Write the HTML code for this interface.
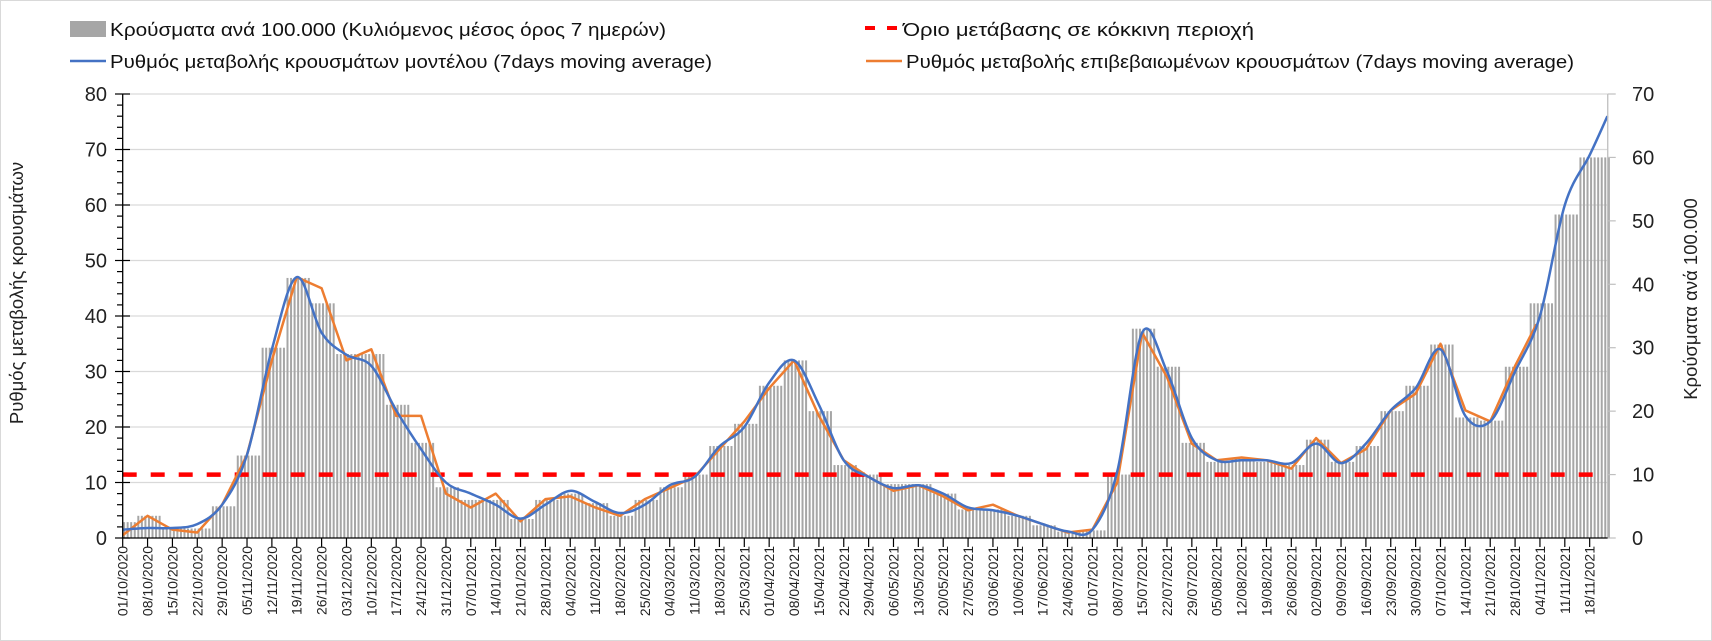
<!DOCTYPE html>
<html><head><meta charset="utf-8"><title>Chart</title>
<style>
html,body{margin:0;padding:0;background:#fff;}
svg{display:block;font-family:"Liberation Sans",Arial,sans-serif;}
</style></head>
<body>
<svg id="chart" width="1712" height="641" viewBox="0 0 1712 641" xmlns="http://www.w3.org/2000/svg">
<rect x="0.5" y="0.5" width="1711" height="640" fill="#fff" stroke="#d9d9d9"/>
<g id="grid"></g>
<g id="bars"></g>
<g id="lines"></g>
<g id="axes"></g>
<g id="legend">
  <g>
    <rect x="70" y="21" width="36" height="16" fill="#a6a6a6"/>
    <text x="110" y="36" font-size="18" fill="#111" textLength="556" lengthAdjust="spacingAndGlyphs">Κρούσματα ανά 100.000 (Κυλιόμενος μέσος όρος 7 ημερών)</text>
  </g>
  <g>
    <line x1="70" y1="61" x2="106" y2="61" stroke="#4472c4" stroke-width="2.5"/>
    <text x="110" y="68" font-size="18" fill="#111" textLength="602" lengthAdjust="spacingAndGlyphs">Ρυθμός μεταβολής κρουσμάτων μοντέλου (7days moving average)</text>
  </g>
  <g>
    <line x1="865" y1="28" x2="902" y2="28" stroke="#ff0000" stroke-width="4" stroke-dasharray="10 12"/>
    <text x="903" y="36" font-size="18" fill="#111" textLength="351" lengthAdjust="spacingAndGlyphs">Όριο μετάβασης σε κόκκινη περιοχή</text>
  </g>
  <g>
    <line x1="866" y1="61" x2="902" y2="61" stroke="#ed7d31" stroke-width="2.5"/>
    <text x="906" y="68" font-size="18" fill="#111" textLength="668" lengthAdjust="spacingAndGlyphs">Ρυθμός μεταβολής επιβεβαιωμένων κρουσμάτων (7days moving average)</text>
  </g>
</g>
</svg>
<script>
// ---- data (weekly, starting 01/10/2020) ----
const tickLabels = ["01/10/2020","08/10/2020","15/10/2020","22/10/2020","29/10/2020","05/11/2020","12/11/2020","19/11/2020","26/11/2020","03/12/2020","10/12/2020","17/12/2020","24/12/2020","31/12/2020","07/01/2021","14/01/2021","21/01/2021","28/01/2021","04/02/2021","11/02/2021","18/02/2021","25/02/2021","04/03/2021","11/03/2021","18/03/2021","25/03/2021","01/04/2021","08/04/2021","15/04/2021","22/04/2021","29/04/2021","06/05/2021","13/05/2021","20/05/2021","27/05/2021","03/06/2021","10/06/2021","17/06/2021","24/06/2021","01/07/2021","08/07/2021","15/07/2021","22/07/2021","29/07/2021","05/08/2021","12/08/2021","19/08/2021","26/08/2021","02/09/2021","09/09/2021","16/09/2021","23/09/2021","30/09/2021","07/10/2021","14/10/2021","21/10/2021","28/10/2021","04/11/2021","11/11/2021","18/11/2021"];
const leftTicks = [0,10,20,30,40,50,60,70,80];
const rightTicks = [0,10,20,30,40,50,60,70];
// cases per 100k (right axis), weekly
const barValues = [2.5,3.5,1.5,1.5,5,13,30,41,37,29,29,21,15,8,6,6,3,6,7,5.5,3.5,6,8,10,14.5,18,24,28,20,11.5,10,8.5,8.5,7,4.5,4.5,3.5,2,1,1.2,10,33,27,15,12,12.5,12,11.5,15.5,12,14.5,20,24,30.5,19,18.5,27,37,51,60];
// model rate (left axis), weekly + final point (23/11/2021)
const modelValues = [1.5,1.8,1.8,2.5,6,15,34,47,37,33,31,23,16,10,8,6,3.5,6,8.5,6.5,4.5,6,9.5,11,16.5,20,28,32,24,14,11,9,9.5,8,5.5,5,4,2.5,1.2,1.5,12,37,30,18,14,14,14,13.5,17,13.5,17,23,27,34,22,21,30,40,60,69,76];
// confirmed rate (left axis), weekly + final point (03/11/2021)
const confirmedValues = [0.5,4,1.5,1,6,15,32,47,45,32,34,22,22,8,5.5,8,3,7,7.5,5.5,4,7,9,11,16,21,27,32,22,14,11,8.5,9.5,7.5,5,6,4,2.5,1,1.5,10,37,29,17,14,14.5,14,12.5,18,13.5,16,23,26,35,23,21,31,38.5];
const threshold = [10]; // right axis
const lastDay = 418, modelLastDay = 418, confirmedLastDay = 398;

// ---- scales ----
const X0 = 122.7, DX = 3.552, YB = 538, YT = 94;
const xDay = d => X0 + d * DX;
const yL = v => YB - v / 80 * (YB - YT);
const yR = v => YB - v / 70 * (YB - YT);
const NS = "http://www.w3.org/2000/svg";
function mk(tag, attrs, parent) { const e = document.createElementNS(NS, tag); for (const k in attrs) e.setAttribute(k, attrs[k]); parent.appendChild(e); return e; }

const grid = document.getElementById('grid');
leftTicks.forEach(v => {
  if (v === 0) return;
  const l = mk('line', {x1: X0, x2: xDay(lastDay) + 0.3, y1: yL(v), y2: yL(v), stroke: '#d9d9d9', 'stroke-width': 1.2}, grid);
  
  
});

const bars = document.getElementById('bars');
for (let d = 0; d <= lastDay; d++) {
  const i = Math.min(barValues.length - 1, Math.round(d / 7));
  const v = barValues[i];
  const r = mk('rect', {x: xDay(d) + 0.4, y: yR(v), width: 2, height: YB - yR(v), fill: '#a6a6a6'}, bars);
  
  
}

const lines = document.getElementById('lines');
const th = mk('line', {x1: X0, x2: xDay(lastDay) - 8, y1: yR(threshold[0]), y2: yR(threshold[0]), stroke: '#ff0000', 'stroke-width': 4.5, 'stroke-dasharray': '14 14'}, lines);



function pts(vals, lastD) {
  return vals.map((v, i) => [i === vals.length - 1 ? lastD : i * 7, v]).map(([d, v]) => [xDay(d), yL(v)]);
}
function smoothPath(p) {
  let s = `M${p[0][0]},${p[0][1]}`;
  for (let i = 0; i < p.length - 1; i++) {
    const p0 = p[i - 1] || p[i], p1 = p[i], p2 = p[i + 1], p3 = p[i + 2] || p2;
    const c1 = [p1[0] + (p2[0] - p0[0]) / 6, p1[1] + (p2[1] - p0[1]) / 6];
    const c2 = [p2[0] - (p3[0] - p1[0]) / 6, p2[1] - (p3[1] - p1[1]) / 6];
    s += ` C${c1[0]},${c1[1]} ${c2[0]},${c2[1]} ${p2[0]},${p2[1]}`;
  }
  return s;
}
function linePath(p) { return 'M' + p.map(q => q[0] + ',' + q[1]).join(' L'); }
const conf = mk('path', {d: linePath(pts(confirmedValues, confirmedLastDay)), fill: 'none', stroke: '#ed7d31', 'stroke-width': 2.5, 'stroke-linejoin': 'round'}, lines);


const model = mk('path', {d: smoothPath(pts(modelValues, modelLastDay)), fill: 'none', stroke: '#4472c4', 'stroke-width': 2.5, 'stroke-linejoin': 'round'}, lines);



const axes = document.getElementById('axes');
const xEnd = xDay(lastDay) + 0.3;
mk('line', {x1: X0, x2: X0, y1: YT, y2: YB, stroke: '#000', 'stroke-width': 1.3}, axes);
mk('line', {x1: xEnd, x2: xEnd, y1: YT, y2: YB, stroke: '#bfbfbf', 'stroke-width': 1.3}, axes);
mk('line', {x1: X0, x2: xEnd, y1: YB, y2: YB, stroke: '#000', 'stroke-width': 1.3}, axes);
for (let v = 0; v <= 80; v += 2) {
  const major = v % 10 === 0;
  mk('line', {x1: major ? 115 : 117, x2: major ? 130 : X0, y1: yL(v), y2: yL(v), stroke: '#000', 'stroke-width': 1.2}, axes);
}
leftTicks.forEach(v => {
  const t = mk('text', {x: 107, y: yL(v) + 7, 'text-anchor': 'end', 'font-size': 20, fill: '#222'}, axes);
  t.textContent = v;
  
  
});
rightTicks.forEach(v => {
  mk('line', {x1: xEnd, x2: xEnd + 8, y1: yR(v), y2: yR(v), stroke: '#bfbfbf', 'stroke-width': 1.2}, axes);
  const t = mk('text', {x: 1632, y: yR(v) + 7, 'font-size': 20, fill: '#222'}, axes);
  t.textContent = v;
  
  
});
tickLabels.forEach((lab, i) => {
  const x = xDay(i * 7);
  mk('line', {x1: x, x2: x, y1: YB, y2: YB + 9, stroke: '#000', 'stroke-width': 1.2}, axes);
  const t = mk('text', {transform: `translate(${x + 5},546) rotate(-90)`, 'text-anchor': 'end', 'font-size': 14, fill: '#222'}, axes);
  t.textContent = lab;
  
  
});
const lt = mk('text', {transform: 'translate(23,293) rotate(-90)', 'text-anchor': 'middle', 'font-size': 18.5, fill: '#222'}, axes);
lt.textContent = 'Ρυθμός μεταβολής κρουσμάτων';


const rt = mk('text', {transform: 'translate(1697,299) rotate(-90)', 'text-anchor': 'middle', 'font-size': 18.5, fill: '#222'}, axes);
rt.textContent = 'Κρούσματα ανά 100.000';


</script>
</body></html>
